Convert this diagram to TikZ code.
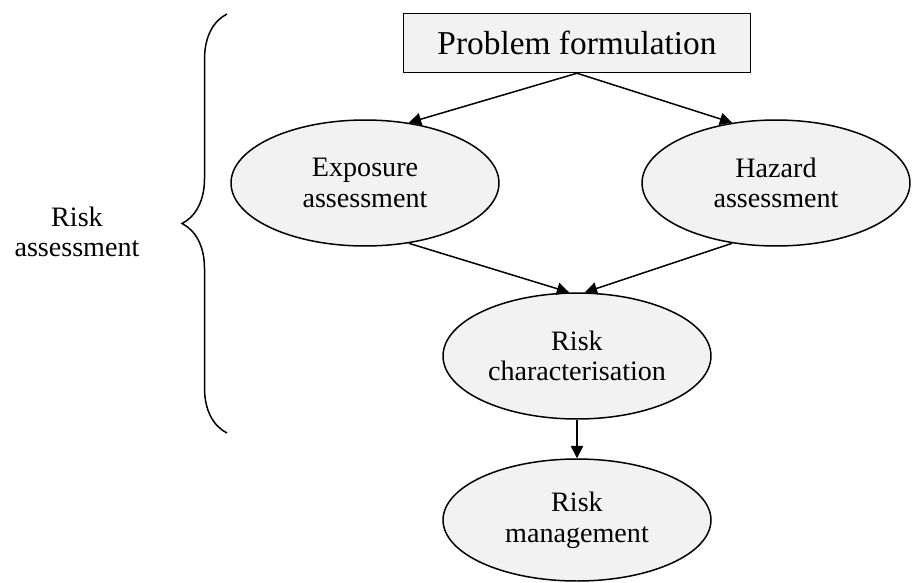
\documentclass[tikz,border=0pt]{standalone}
\usepackage{fontspec}
\setmainfont{Liberation Serif}
\usetikzlibrary{shapes.geometric,arrows.meta,decorations.pathreplacing}

\begin{document}
\begin{tikzpicture}[x=0.02cm,y=-0.02cm,line width=0.85pt,>={Triangle[length=7pt,width=7pt]},
      every node/.style={align=center,font=\fontsize{16}{17.5}\selectfont},
      stage/.style={draw,shape=ellipse,fill=gray!10,minimum width=5.36cm,minimum height=2.52cm,inner sep=0pt},
      startbox/.style={draw,shape=rectangle,fill=gray!10,minimum width=6.94cm,minimum height=1.18cm,font=\fontsize{19}{22}\selectfont}]
      \useasboundingbox (0,0) rectangle (912,582);
      \node[startbox] (prob) at (577,43) {Problem formulation};
      \node[stage] (expo) at (365,183) {Exposure\\assessment};
      \node[stage] (haz) at (776,183) {Hazard\\assessment};
      \node[stage] (char) at (577,356) {Risk\\characterisation};
      \node[stage,minimum height=2.44cm] (mgmt) at (577,520) {Risk\\management};
      \node (assess) at (77,232) {Risk\\assessment};
      \draw[->] (prob.south) -- (expo.54);
      \draw[->] (prob.south) -- (haz.126);
      \draw[->] (expo.-54) -- (char.97);
      \draw[->] (haz.-126) -- (char.83);
      \draw[->] (char) -- (mgmt);
      \draw[decorate,decoration={brace,amplitude=0.9cm}] (227,433) -- (227,14);
\end{tikzpicture}
\end{document}
